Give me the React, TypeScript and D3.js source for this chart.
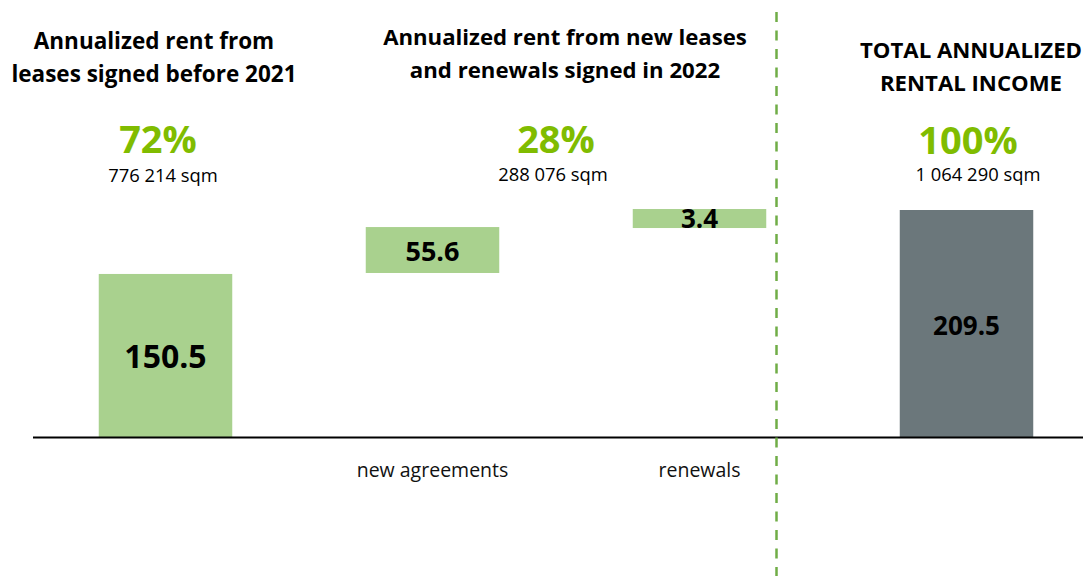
import React from "react";
import * as d3 from "d3";

// categories and values
const categories = ["before2021", "new agreements", "renewals", "total"];
const valueLabels = ["150.5", "55.6", "3.4", "209.5"];
// bar extents as drawn (same units as the total bar)
const barStart = [0, 151.5, 192.9, 0];
const barEnd = [150.6, 193.8, 210.4, 209.5];
const barColors = ["#a9d18e", "#a9d18e", "#a9d18e", "#6b777b"];
const axisLabels = ["", "new agreements", "renewals", ""];

const headerLines = [
  ["Annualized rent from", "leases signed before 2021"],
  ["Annualized rent from new leases", "and renewals signed in 2022"],
  ["TOTAL ANNUALIZED", "RENTAL INCOME"],
];
const percents = ["72%", "28%", "100%"];
const areas = ["776 214 sqm", "288 076 sqm", "1 064 290 sqm"];

export default function App() {
  const width = 1083;
  const height = 576;
  const baseline = 437.5;
  const font = "'Open Sans', Lato, sans-serif";

  const x = d3.scaleBand<string>()
    .domain(categories)
    .range([32, 1100])
    .paddingInner(0.5)
    .paddingOuter(0.25);

  const y = d3.scaleLinear()
    .domain([0, 209.5])
    .range([baseline, 210]);

  const headerX = [154, 565, 971];
  const headerY = [49, 45, 58];
  const headerSize = [22.5, 22.2, 22.2];
  const pctX = [158, 556, 968];
  const pctY = [153, 153, 154];
  const sqmX = [163, 553, 978];
  const sqmY = [182, 181, 181];
  const valueY = [368, 261, 228, 335];
  const valueSize = [32, 27, 26, 26];

  return (
    <svg
      width={width}
      height={height}
      style={{ display: "block", background: "#fff", position: "fixed", top: 0, left: 0 }}
    >
      {categories.map((c, i) => (
        <rect
          key={c}
          x={x(c)}
          y={y(barEnd[i])}
          width={x.bandwidth()}
          height={y(barStart[i]) - y(barEnd[i])}
          fill={barColors[i]}
        />
      ))}

      <line x1={33} x2={width} y1={baseline} y2={baseline} stroke="#000" strokeWidth={2} />

      <line
        x1={776.5}
        x2={776.5}
        y1={12}
        y2={height}
        stroke="#70ad47"
        strokeWidth={2.5}
        strokeDasharray="10 8.5"
      />

      {categories.map((c, i) => (
        <text
          key={"v" + c}
          x={x(c)! + x.bandwidth() / 2}
          y={valueY[i]}
          textAnchor="middle"
          fontFamily={font}
          fontWeight="bold"
          fontSize={valueSize[i]}
          fill="#000"
        >
          {valueLabels[i]}
        </text>
      ))}

      {categories.map((c, i) =>
        axisLabels[i] ? (
          <text
            key={"a" + c}
            x={x(c)! + x.bandwidth() / 2}
            y={477}
            textAnchor="middle"
            fontFamily={font}
            fontSize={19.5}
            fill="#111"
          >
            {axisLabels[i]}
          </text>
        ) : null
      )}

      {headerLines.map((lines, i) => (
        <text
          key={"h" + i}
          x={headerX[i]}
          y={headerY[i]}
          textAnchor="middle"
          fontFamily={font}
          fontWeight="bold"
          fontSize={headerSize[i]}
          fill="#000"
        >
          {lines.map((l, j) => (
            <tspan key={j} x={headerX[i]} dy={j === 0 ? 0 : 32.5}>
              {l}
            </tspan>
          ))}
        </text>
      ))}

      {percents.map((p, i) => (
        <text
          key={"p" + i}
          x={pctX[i]}
          y={pctY[i]}
          textAnchor="middle"
          fontFamily={font}
          fontWeight="bold"
          fontSize={38}
          fill="#80bc00"
        >
          {p}
        </text>
      ))}

      {areas.map((s, i) => (
        <text
          key={"s" + i}
          x={sqmX[i]}
          y={sqmY[i]}
          textAnchor="middle"
          fontFamily={font}
          fontSize={18.4}
          fill="#000"
        >
          {s}
        </text>
      ))}
    </svg>
  );
}
